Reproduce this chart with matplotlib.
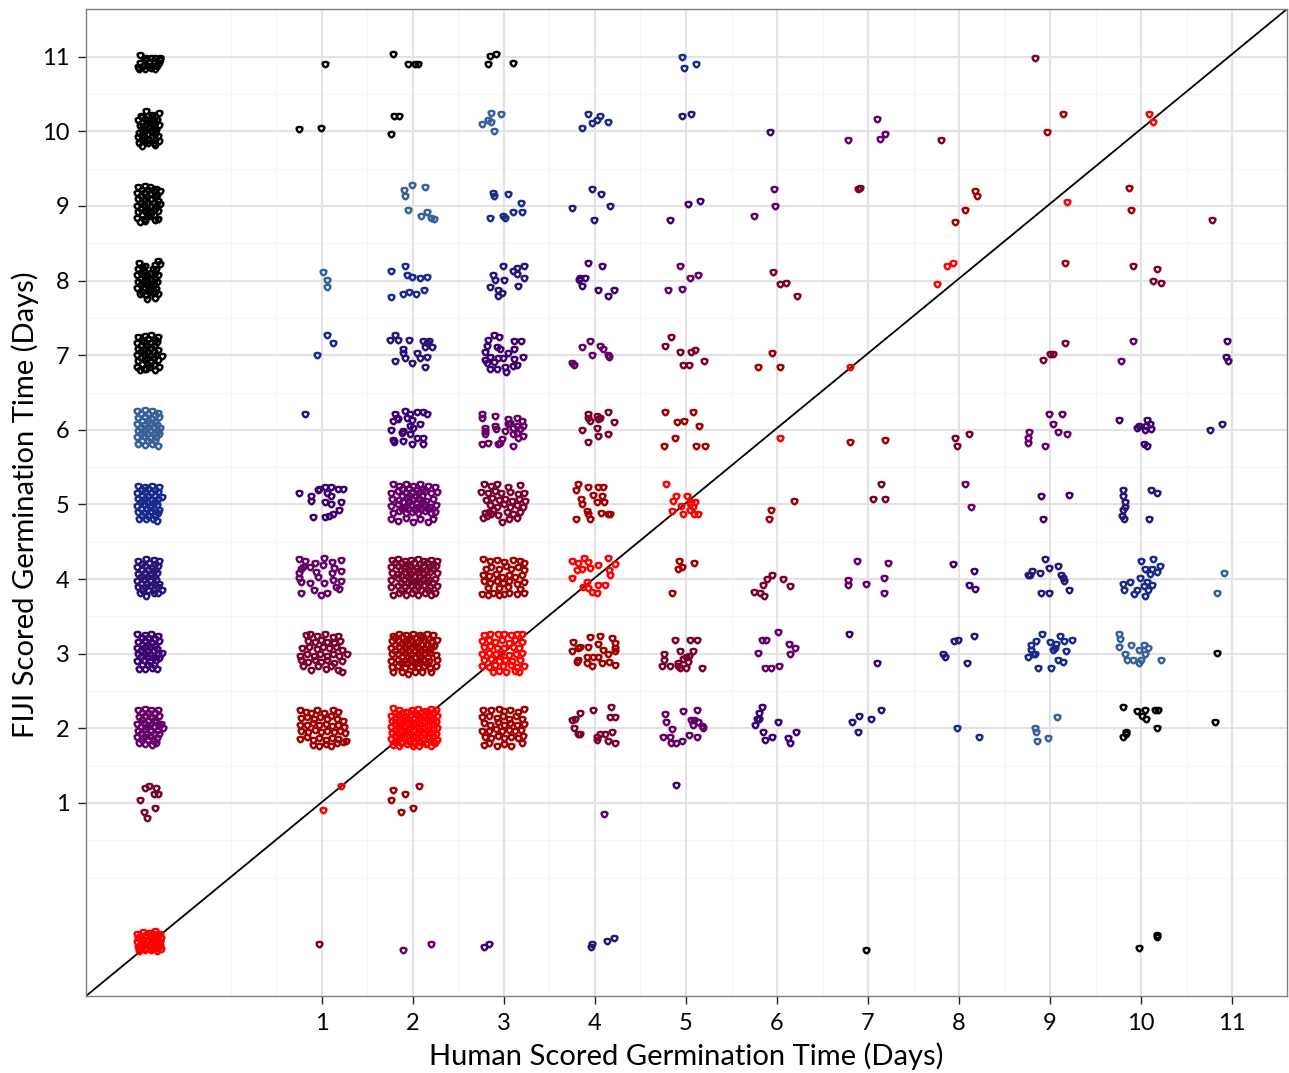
import matplotlib
matplotlib.use('Agg')
import matplotlib.pyplot as plt
from matplotlib.path import Path

# (human, fiji) days, jitter included.
# grouped by |human - fiji| since that is what sets the colour. Not germinated = about -0.9
band0 = [
    (-1.03,-0.75),(-0.97,-0.73),(-0.9,-0.74),(-0.84,-0.72),(-0.78,-0.75),(-1.02,-0.81),(-0.95,-0.8),(-0.88,-0.79),
    (-0.82,-0.8),(-0.77,-0.81),(-1.03,-0.87),(-0.96,-0.86),(-0.9,-0.85),(-0.84,-0.86),(-0.78,-0.87),(-1.02,-0.93),
    (-0.97,-0.92),(-0.91,-0.91),(-0.85,-0.93),(-0.78,-0.92),(-1.01,-0.98),(-0.95,-0.97),(-0.88,-0.97),(-0.81,-0.98),(-0.77,-0.96),
    (1.21,1.23),(1.01,0.91),
    (1.78,2.27),(1.85,2.24),(1.92,2.22),(1.99,2.25),(2.06,2.26),(2.13,2.23),(2.2,2.26),(2.25,2.24),
    (1.76,2.17),(1.83,2.18),(1.9,2.15),(1.97,2.17),(2.04,2.18),(2.11,2.16),(2.18,2.18),(2.26,2.16),
    (1.77,2.1),(1.84,2.09),(1.91,2.11),(1.98,2.08),(2.05,2.1),(2.12,2.09),(2.19,2.11),(2.25,2.08),
    (1.76,2.02),(1.83,2.01),(1.9,2.03),(1.97,2.0),(2.04,2.02),(2.11,2.01),(2.18,2.03),(2.26,2.0),
    (1.77,1.94),(1.84,1.93),(1.91,1.95),(1.98,1.92),(2.05,1.94),(2.12,1.93),(2.19,1.95),(2.25,1.92),
    (1.76,1.86),(1.83,1.85),(1.9,1.87),(1.97,1.84),(2.04,1.86),(2.11,1.85),(2.18,1.87),(2.26,1.84),
    (1.78,1.78),(1.85,1.76),(1.93,1.79),(2.0,1.77),(2.07,1.76),(2.14,1.79),(2.2,1.77),(2.24,1.8),
    (2.78,3.25),(2.85,3.27),(2.93,3.26),(3.0,3.27),(3.08,3.25),(3.14,3.27),(3.2,3.26),(2.76,3.17),(2.83,3.19),(2.9,3.16),
    (2.98,3.18),(3.05,3.15),(3.12,3.18),(3.2,3.16),(2.78,3.09),(2.85,3.1),(2.92,3.08),(3.0,3.07),(3.1,3.09),(3.17,3.07),
    (2.76,3.0),(2.84,3.01),(2.91,2.99),(2.97,3.0),(3.06,2.98),(3.13,3.0),(3.2,3.01),(2.78,2.91),(2.86,2.93),(2.94,2.9),
    (3.01,2.92),(3.09,2.9),(3.18,2.92),(2.76,2.84),(2.83,2.82),(2.9,2.85),(2.99,2.83),(3.08,2.85),(3.14,2.82),(3.22,2.84),
    (2.88,2.76),(2.94,2.77),(3.02,2.75),(3.12,2.77),(3.17,2.76),
    (3.75,4.24),(3.81,4.21),(3.88,4.28),(3.92,4.23),(3.8,4.12),(3.86,4.13),(3.95,4.15),(3.75,4.01),(4.03,4.19),(4.14,4.28),
    (4.22,4.2),(4.15,4.12),(4.16,4.05),(3.91,3.96),(3.87,3.89),(3.97,3.83),(4.02,3.81),(4.03,3.92),(4.11,3.92),(3.92,3.88),
    (4.78,5.27),(4.86,5.04),(4.89,5.11),(5.01,5.11),(5.05,5.03),(5.1,5.03),(5.08,4.96),(5.04,4.93),(4.85,4.91),(4.97,4.87),
    (4.94,4.98),(5.09,4.87),(5.13,4.87),(5.04,5.0),
    (6.03,5.89),(6.8,6.84),(7.76,7.95),(7.87,8.19),(7.93,8.24),(9.19,9.05),(10.09,10.23),(10.13,10.12),
]
band1 = [
    (0.76,2.24),(0.82,2.22),(0.88,2.2),(0.95,2.24),(1.02,2.21),(1.12,2.24),(1.18,2.22),(0.77,2.14),(0.84,2.15),(0.91,2.12),
    (0.98,2.15),(1.05,2.13),(1.1,2.16),(1.17,2.12),(1.23,2.1),(0.76,2.05),(0.83,2.04),(0.9,2.07),(0.97,2.04),(1.04,2.06),
    (1.11,2.03),(1.18,2.05),(1.24,2.02),(0.77,1.97),(0.85,1.95),(0.92,1.98),(0.99,1.95),(1.06,1.97),(1.13,1.95),(1.2,1.97),
    (1.25,1.94),(0.76,1.86),(0.83,1.88),(0.9,1.85),(0.97,1.87),(1.04,1.84),(1.11,1.87),(1.18,1.86),(1.26,1.83),(0.9,1.78),
    (0.97,1.77),(1.04,1.79),(1.1,1.77),(1.17,1.8),(1.23,1.82),
    (1.78,1.17),(1.91,1.12),(1.76,1.04),(2.07,1.23),(1.87,0.88),(2.0,0.93),
    (1.78,3.24),(1.85,3.27),(1.92,3.25),(2.0,3.27),(2.08,3.25),(2.15,3.26),(2.22,3.25),(1.77,3.17),(1.84,3.18),(1.91,3.16),
    (1.98,3.18),(2.05,3.16),(2.12,3.18),(2.2,3.16),(2.26,3.18),(1.76,3.08),(1.85,3.09),(1.92,3.07),(1.99,3.09),(2.06,3.08),
    (2.13,3.06),(2.2,3.09),(1.77,3.0),(1.84,2.99),(1.91,3.01),(1.98,2.98),(2.05,3.0),(2.12,2.99),(2.19,3.01),(2.25,2.98),
    (1.76,2.9),(1.83,2.92),(1.9,2.9),(1.97,2.92),(2.04,2.89),(2.11,2.92),(2.18,2.9),(2.26,2.92),(1.77,2.82),(1.84,2.84),
    (1.91,2.81),(1.98,2.83),(2.05,2.82),(2.12,2.84),(2.19,2.81),(2.25,2.83),(1.78,2.76),(1.88,2.75),(1.94,2.73),(2.02,2.76),(2.1,2.75),(2.2,2.76),
    (2.77,2.25),(2.86,2.24),(2.94,2.26),(3.0,2.23),(3.07,2.25),(3.15,2.22),(3.22,2.26),(2.76,2.15),(2.83,2.17),(2.92,2.14),
    (2.99,2.16),(3.06,2.13),(3.13,2.16),(3.2,2.13),(2.78,2.07),(2.85,2.05),(2.93,2.08),(3.0,2.05),(3.07,2.07),(3.14,2.04),
    (3.22,2.06),(2.76,1.97),(2.84,1.96),(2.91,1.99),(2.98,1.96),(3.05,1.98),(3.12,1.96),(3.19,1.98),(2.79,1.89),(2.86,1.87),
    (2.93,1.9),(3.0,1.87),(3.08,1.89),(3.15,1.87),(3.21,1.9),(2.78,1.78),(2.84,1.8),(2.92,1.77),(3.0,1.79),(3.08,1.76),(3.2,1.8),
    (2.77,4.27),(2.85,4.24),(2.92,4.26),(3.0,4.23),(3.1,4.26),(3.18,4.24),(3.22,4.22),(2.8,4.13),(2.86,4.16),(2.94,4.13),
    (3.02,4.17),(3.08,4.14),(3.15,4.16),(3.22,4.12),(2.77,4.06),(2.84,4.04),(2.91,4.07),(2.98,4.03),(3.05,4.06),(3.12,4.03),
    (3.2,4.06),(2.78,3.97),(2.85,3.95),(2.92,3.98),(2.99,3.95),(3.06,3.97),(3.14,3.94),(3.22,3.96),(2.76,3.8),(2.82,3.79),
    (2.88,3.81),(2.94,3.79),(3.0,3.8),(3.06,3.82),(3.14,3.8),(3.22,3.81),(2.82,3.88),(2.95,3.88),(3.04,3.89),(3.18,3.87),
    (3.76,3.16),(3.75,3.04),(3.81,3.08),(3.84,3.09),(3.92,3.09),(3.95,3.23),(4.05,3.24),(4.19,3.21),(4.03,3.13),(4.22,3.15),
    (4.22,3.08),(4.22,3.03),(4.09,3.05),(4.14,2.99),(3.8,2.89),(3.81,2.92),(3.91,2.88),(3.97,2.83),(4.03,2.95),(4.08,2.88),
    (4.15,2.89),(4.22,2.85),(3.91,2.95),(3.98,2.95),
    (3.81,5.28),(3.92,5.24),(4.03,5.24),(4.09,5.24),(3.79,5.19),(3.98,5.13),(4.08,5.11),(3.85,5.08),(3.86,5.0),(4.02,5.03),
    (4.1,5.03),(3.91,4.91),(3.92,4.87),(4.07,4.88),(4.14,4.87),(4.16,4.87),(3.79,4.81),(3.95,4.81),
    (4.92,4.24),(4.96,4.16),(4.91,4.13),(5.09,4.21),(4.85,3.81),
    (4.77,6.24),(4.9,6.11),(4.98,6.12),(5.08,6.24),(5.14,6.05),(4.76,5.79),(4.88,5.89),(5.11,5.79),(5.21,5.79),
    (6.19,5.05),(5.93,4.92),(5.91,4.81),(5.79,6.84),(5.95,7.03),(6.03,6.84),(6.8,5.84),(7.19,5.87),
    (7.96,8.79),(8.07,8.95),(8.18,9.2),(8.2,9.13),(9.16,8.24),(8.97,9.99),(9.14,10.23),(9.87,9.24),(9.89,8.95),
]
band2 = [
    (-0.945,1.2),(-0.9,1.23),(-0.82,1.2),(-0.85,1.12),(-0.8,1.12),(-1.0,1.04),(-0.84,0.93),(-0.96,0.88),(-0.92,0.8),
    (0.97,-0.89),
    (0.82,3.25),(0.87,3.27),(0.95,3.24),(1.03,3.27),(1.12,3.23),(1.18,3.24),(0.85,3.17),(0.92,3.16),(0.99,3.19),(1.06,3.16),
    (1.13,3.15),(1.2,3.17),(0.78,3.08),(0.86,3.09),(0.94,3.06),(1.01,3.09),(1.08,3.07),(1.15,3.09),(1.22,3.05),(0.76,2.97),
    (0.84,3.0),(0.91,2.97),(0.98,3.0),(1.05,2.97),(1.12,3.0),(1.19,2.97),(1.27,2.99),(0.77,2.91),(0.85,2.89),(0.92,2.92),
    (0.99,2.89),(1.06,2.91),(1.13,2.88),(1.22,2.9),(0.79,2.84),(0.88,2.78),(0.96,2.83),(1.04,2.8),(1.1,2.84),(1.18,2.78),(1.22,2.76),
    (1.77,4.25),(1.84,4.27),(1.91,4.24),(1.98,4.26),(2.05,4.27),(2.12,4.24),(2.2,4.26),(2.26,4.24),(1.76,4.16),(1.83,4.17),
    (1.9,4.15),(1.97,4.17),(2.04,4.15),(2.11,4.17),(2.18,4.16),(2.25,4.18),(1.77,4.08),(1.84,4.07),(1.91,4.09),(1.98,4.07),
    (2.05,4.09),(2.12,4.07),(2.19,4.09),(2.26,4.08),(1.76,3.99),(1.83,4.01),(1.9,3.99),(1.97,4.0),(2.04,3.98),(2.11,4.0),
    (2.18,3.99),(2.24,4.0),(1.76,3.89),(1.84,3.91),(1.91,3.89),(1.98,3.92),(2.05,3.9),(2.12,3.92),(2.19,3.9),(2.26,3.91),
    (1.78,3.79),(1.85,3.82),(1.92,3.79),(1.99,3.81),(2.06,3.79),(2.13,3.82),(2.2,3.79),(2.24,3.81),
    (2.78,5.27),(2.86,5.25),(2.92,5.27),(3.04,5.24),(3.18,5.26),(2.75,5.17),(2.82,5.15),(2.9,5.18),(2.97,5.15),(3.07,5.17),
    (3.15,5.14),(3.22,5.16),(2.8,5.06),(2.87,5.09),(2.94,5.06),(3.01,5.08),(3.09,5.05),(3.16,5.08),(3.23,5.05),(2.85,4.99),
    (2.92,4.97),(3.0,5.0),(3.07,4.97),(3.14,4.99),(3.21,4.97),(2.79,4.88),(2.83,4.9),(2.88,4.93),(2.93,4.86),(3.03,4.9),
    (3.1,4.87),(3.18,4.9),(2.77,4.82),(2.81,4.84),(2.86,4.87),(2.98,4.77),(3.06,4.8),(3.14,4.82),
    (3.98,2.24),(4.18,2.28),(3.84,2.2),(3.78,2.13),(3.75,2.11),(4.16,2.15),(4.22,2.15),(3.77,2.01),(3.81,1.92),(3.84,1.93),
    (4.02,1.89),(4.05,1.92),(4.11,1.92),(4.19,1.95),(4.14,1.83),(4.22,1.8),(4.02,1.84),
    (3.92,6.21),(3.92,6.16),(4.02,6.19),(4.05,6.16),(4.14,6.24),(4.21,6.11),(3.86,6.0),(4.02,6.03),(4.03,5.92),(4.14,5.95),
    (3.92,5.84),(3.95,6.12),(4.03,6.15),
    (4.74,2.84),(4.76,2.99),(4.76,2.91),(4.88,3.19),(4.93,3.04),(4.91,2.88),(4.97,2.93),(5.0,2.96),(5.03,2.97),(5.04,3.19),
    (5.12,3.19),(5.08,3.04),(4.82,2.84),(4.93,2.81),(5.0,2.81),(5.18,2.81),(5.02,2.89),(4.91,2.83),
    (4.77,7.13),(4.84,7.25),(4.93,7.04),(5.05,7.04),(5.1,7.07),(4.97,6.87),(5.03,6.87),(5.2,6.92),
    (5.75,3.83),(5.81,3.81),(5.85,3.92),(5.89,4.0),(5.95,4.05),(6.07,4.0),(6.14,3.91),(5.86,3.77),
    (5.96,8.12),(6.03,7.95),(6.1,7.97),(6.22,7.79),(7.14,5.27),(7.05,5.08),(7.19,5.08),(6.89,9.23),(6.91,9.24),
    (7.96,5.89),(8.11,5.95),(7.98,5.79),(7.8,9.88),(8.92,6.93),(9.0,7.01),(9.03,7.01),(9.16,7.16),(8.84,10.98),
    (9.91,8.19),(10.18,8.16),(10.13,8.0),(10.22,7.97),(10.78,8.81),
]
band3 = [
    (-1.02,2.24),(-0.95,2.26),(-0.88,2.25),(-0.8,2.24),(-1.01,2.15),(-0.94,2.16),(-0.87,2.14),(-0.79,2.16),(-1.03,2.06),(-0.96,2.07),
    (-0.89,2.05),(-0.82,2.08),(-0.77,2.06),(-1.02,1.97),(-0.95,1.99),(-0.88,1.96),(-0.8,1.98),(-0.75,2.0),(-1.03,1.89),(-0.96,1.88),
    (-0.89,1.9),(-0.81,1.87),(-1.01,1.8),(-0.94,1.79),(-0.87,1.78),(-0.82,1.8),
    (0.75,4.27),(0.81,4.24),(0.92,4.21),(1.02,4.28),(1.11,4.23),(1.21,4.25),(0.77,4.13),(0.87,4.16),(0.93,4.09),(1.01,4.19),
    (1.13,4.15),(1.21,4.11),(0.75,4.08),(0.96,4.03),(1.11,4.08),(0.77,3.96),(0.87,3.95),(1.02,3.95),(1.15,3.89),(1.21,3.97),
    (0.77,3.81),(0.91,3.85),(0.99,3.79),(1.05,3.81),(1.19,3.87),(0.75,4.01),(1.12,3.99),(0.79,4.16),
    (1.89,-0.97),(2.2,-0.89),
    (1.78,5.27),(1.85,5.25),(1.92,5.28),(2.0,5.25),(2.08,5.27),(2.16,5.25),(2.24,5.23),(1.76,5.16),(1.84,5.18),(1.92,5.15),
    (1.99,5.17),(2.06,5.15),(2.13,5.18),(2.2,5.15),(2.26,5.17),(1.77,5.08),(1.85,5.06),(1.93,5.09),(2.0,5.06),(2.07,5.08),
    (2.14,5.05),(2.22,5.08),(1.76,4.98),(1.84,5.0),(1.91,4.97),(1.98,4.99),(2.05,4.97),(2.12,5.0),(2.19,4.97),(2.25,4.99),
    (1.78,4.89),(1.85,4.91),(1.92,4.88),(1.99,4.9),(2.06,4.88),(2.13,4.91),(2.2,4.88),(2.24,4.9),(1.76,4.81),(1.84,4.78),
    (1.92,4.82),(2.0,4.76),(2.08,4.8),(2.16,4.77),(2.22,4.81),
    (2.76,6.21),(2.9,6.19),(2.76,6.16),(2.79,6.03),(2.9,6.05),(2.79,5.95),(2.76,5.81),(2.82,5.83),(2.93,5.81),(2.98,5.88),
    (3.1,5.79),(3.04,6.08),(3.14,6.16),(3.2,6.12),(3.18,6.01),(3.21,5.92),(3.1,5.95),(3.01,5.99),(3.07,6.09),(3.1,6.03),
    (3.15,5.89),(3.14,6.05),(3.04,6.15),(3.21,6.05),(2.79,5.99),(2.91,6.01),(2.96,5.83),(3.14,5.96),
    (4.1,0.85),(3.75,6.89),(3.77,6.87),(3.86,7.11),(3.95,7.19),(3.97,7.0),(4.05,7.13),(4.09,7.08),(4.14,7.0),(4.15,6.97),
    (4.77,2.19),(4.78,2.09),(4.97,2.23),(5.12,2.25),(4.85,1.99),(5.09,2.11),(5.13,2.08),(5.18,2.03),(5.05,2.11),(4.75,1.88),
    (4.82,1.88),(4.84,1.81),(4.89,1.81),(4.96,1.83),(5.03,1.91),(5.12,1.89),(5.19,2.0),(5.08,2.04),
    (4.8,7.87),(4.93,8.19),(4.96,7.89),(5.04,8.04),(5.13,8.08),
    (5.79,3.01),(5.84,3.19),(6.01,3.29),(5.87,2.81),(5.93,2.81),(6.02,2.84),(6.13,3.13),(6.2,3.08),(6.14,2.99),(5.88,3.19),
    (5.75,8.87),(5.97,9.23),(5.98,9.0),
    (6.78,3.99),(6.78,3.92),(6.88,4.24),(6.98,3.93),(7.18,4.01),(7.22,4.21),(7.18,3.81),
    (6.78,9.88),(7.1,10.17),(7.13,9.9),(7.19,9.97),(8.07,5.27),(8.13,4.97),
    (8.76,5.89),(8.77,5.97),(8.76,5.83),(8.99,6.21),(9.13,6.21),(9.03,6.08),(9.09,5.97),(9.19,5.95),(8.95,5.79),
    (9.78,6.92),(9.91,7.19),
]
band4 = [
    (-1.03,3.26),(-0.95,3.25),(-0.88,3.26),(-0.8,3.24),(-1.02,3.16),(-0.94,3.17),(-0.87,3.15),(-0.79,3.17),(-1.03,3.08),(-0.96,3.07),
    (-0.89,3.09),(-0.81,3.06),(-1.02,2.99),(-0.95,3.0),(-0.88,2.98),(-0.8,3.0),(-0.76,3.01),(-1.03,2.9),(-0.96,2.92),(-0.89,2.89),
    (-0.82,2.91),(-1.01,2.8),(-0.94,2.79),(-0.87,2.81),(-0.81,2.8),
    (0.75,5.16),(0.88,5.11),(0.88,5.04),(0.96,5.2),(0.97,5.21),(1.03,5.24),(1.1,5.24),(1.18,5.21),(1.23,5.21),(1.05,5.16),
    (1.1,5.11),(1.03,5.03),(1.1,5.0),(1.21,5.03),(1.19,4.92),(1.12,4.87),(1.03,4.83),(0.9,4.83),(1.08,4.85),
    (1.8,6.21),(1.91,6.25),(1.97,6.21),(2.04,6.24),(2.11,6.24),(2.15,6.21),(1.78,6.12),(1.84,6.15),(1.76,6.0),(1.99,6.13),
    (2.08,6.08),(1.97,6.05),(1.89,5.99),(1.97,5.95),(2.04,5.89),(2.11,5.89),(1.78,5.87),(1.79,5.84),(1.89,5.85),(1.99,5.81),
    (2.11,5.81),(1.88,5.96),(1.93,6.16),(2.0,6.03),(1.82,6.16),
    (2.78,-0.93),(2.84,-0.89),
    (2.82,7.21),(2.89,7.27),(2.95,7.24),(2.81,7.13),(2.79,7.05),(2.92,7.11),(2.96,7.09),(3.04,7.03),(3.11,7.19),(3.19,7.19),
    (3.11,7.09),(2.85,6.97),(2.93,6.96),(2.99,6.96),(3.11,6.95),(3.21,6.97),(2.81,6.89),(2.89,6.91),(3.01,6.84),(3.14,6.87),
    (2.85,6.81),(2.92,6.81),(3.02,6.77),(3.1,6.85),(2.79,6.93),
    (3.92,8.24),(4.08,8.2),(3.82,8.01),(3.84,8.04),(3.89,8.04),(3.86,7.93),(4.03,7.88),(4.14,7.8),(4.21,7.88),
    (4.89,1.24),(4.82,8.81),(5.02,9.03),(5.15,9.07),
    (5.8,2.2),(5.84,2.29),(5.78,2.13),(5.76,2.05),(6.01,2.09),(5.87,1.85),(5.85,1.95),(5.95,1.89),(6.12,1.87),(6.21,1.95),
    (6.14,1.81),(5.8,2.12),(5.92,9.99),
    (6.79,3.27),(7.1,2.87),(7.93,4.2),(8.16,4.11),(8.11,3.92),(8.18,3.87),(8.9,5.11),(9.21,5.13),(8.92,4.81),
    (9.76,6.13),(10.07,6.13),(9.98,6.05),(10.05,6.05),(10.11,6.01),(9.96,6.03),(10.03,5.81),(10.07,5.79),(10.04,6.0),(10.1,6.08),
    (10.95,7.19),(10.93,6.97),(10.96,6.92),
]
band5 = [
    (-1.02,4.24),(-0.93,4.27),(-0.85,4.26),(-0.79,4.24),(-1.03,4.16),(-0.95,4.17),(-0.87,4.15),(-0.8,4.17),(-1.02,4.07),(-0.95,4.08),
    (-0.88,4.06),(-0.81,4.08),(-1.03,3.98),(-0.96,4.0),(-0.89,3.97),(-0.82,3.99),(-1.02,3.9),(-0.95,3.89),(-0.88,3.91),(-0.8,3.89),
    (-0.76,3.85),(-1.0,3.81),(-0.93,3.78),(-0.85,3.81),(-0.8,3.82),
    (0.81,6.21),
    (1.75,7.21),(1.8,7.27),(1.84,7.21),(1.96,7.21),(2.11,7.19),(2.18,7.19),(2.15,7.16),(2.21,7.11),(2.13,7.11),(1.89,7.08),
    (1.89,7.03),(1.91,6.96),(1.8,6.92),(2.04,7.03),(2.08,6.96),(1.99,6.89),(2.15,6.97),(2.13,6.84),
    (2.99,8.2),(2.88,8.07),(2.9,8.01),(3.0,8.01),(3.1,8.13),(3.14,8.17),(3.22,8.2),(3.22,8.04),(3.15,7.93),(2.85,7.91),
    (2.93,7.88),(2.98,7.83),(2.93,7.8),(3.14,8.09),
    (3.75,8.97),(3.97,9.23),(4.07,9.16),(3.99,8.81),(4.16,9.0),
    (3.96,-0.93),(3.97,-0.89),(4.13,-0.85),(4.21,-0.81),
    (4.96,10.2),(5.05,10.23),
    (6.82,2.09),(6.9,2.16),(6.89,1.95),(7.03,2.13),(7.14,2.24),
    (7.82,3.0),(7.85,2.95),(7.94,3.17),(7.99,3.19),(8.09,2.87),(8.16,3.24),
    (8.95,4.27),(8.99,4.15),(9.09,4.17),(8.78,4.05),(8.8,4.11),(8.89,4.08),(9.12,4.05),(9.15,3.97),(9.14,4.01),(9.21,3.85),
    (8.9,3.81),(8.99,3.81),(8.76,4.05),
    (9.8,5.19),(9.8,5.11),(9.82,5.03),(10.11,5.19),(10.18,5.15),(10.09,4.81),(9.8,4.92),(9.79,4.85),(9.81,4.81),(9.82,4.97),
    (10.76,6.0),(10.89,6.08),
]
band6 = [
    (-1.02,5.25),(-0.94,5.24),(-0.87,5.25),(-0.79,5.24),(-1.03,5.16),(-0.95,5.17),(-0.88,5.15),(-0.8,5.17),(-0.76,5.1),(-1.02,5.07),
    (-0.94,5.08),(-0.87,5.06),(-0.8,5.07),(-1.03,4.98),(-0.96,5.0),(-0.89,4.97),(-0.81,4.99),(-1.02,4.9),(-0.95,4.89),(-0.88,4.91),
    (-0.8,4.88),(-1.01,4.81),(-0.93,4.8),(-0.86,4.81),(-0.81,4.78),
    (1.05,7.27),(1.12,7.16),(0.95,7.0),
    (1.76,8.13),(1.91,8.2),(1.76,7.78),(1.89,7.82),(1.96,7.85),(1.93,8.07),(1.99,8.05),(2.08,8.04),(2.15,8.05),(2.03,7.82),(2.12,7.87),
    (2.88,9.18),(2.89,9.14),(3.04,9.16),(2.85,8.84),(2.99,8.87),(3.1,8.92),(3.19,9.04),(3.2,8.92),(3.01,8.84),
    (3.86,10.04),(3.92,10.23),(3.97,10.11),(4.05,10.21),(4.02,10.15),(4.14,10.13),
    (4.96,11.0),(4.98,10.85),(5.11,10.9),
    (7.98,2.0),(8.22,1.89),
    (8.76,2.95),(8.79,3.12),(8.85,3.17),(8.79,3.05),(8.87,2.81),(9.01,2.81),(8.91,3.27),(9.0,3.16),(9.05,3.08),(9.11,3.24),
    (9.15,3.17),(9.07,3.13),(9.24,3.19),(9.18,3.03),(9.09,2.92),(9.14,2.89),(9.03,3.05),(8.84,3.0),(8.81,2.99),
    (9.8,3.93),(9.88,3.96),(10.0,4.24),(10.13,4.27),(10.04,4.13),(10.12,4.13),(10.21,4.17),(10.18,4.09),(10.1,4.07),(9.99,4.01),
    (10.07,3.96),(10.03,3.91),(9.96,3.85),(10.04,3.77),(9.92,3.8),(9.81,3.85),(10.12,3.92),(10.08,3.85),
]
band7 = [
    (-1.03,6.25),(-0.95,6.26),(-0.87,6.25),(-0.8,6.22),(-1.02,6.16),(-0.94,6.17),(-0.87,6.15),(-0.79,6.17),(-1.03,6.08),(-0.96,6.07),
    (-0.89,6.09),(-0.81,6.06),(-0.78,6.03),(-1.02,5.99),(-0.95,6.0),(-0.88,5.98),(-0.8,5.99),(-1.03,5.9),(-0.96,5.92),(-0.89,5.89),
    (-0.82,5.91),(-1.02,5.81),(-0.94,5.8),(-0.87,5.81),(-0.8,5.79),
    (1.01,8.12),(1.05,8.01),(1.05,7.91),
    (1.9,9.21),(1.99,9.28),(2.13,9.26),(1.95,8.94),(2.09,8.87),(2.15,8.92),(2.2,8.84),(2.23,8.82),(1.91,9.13),
    (2.76,10.1),(2.82,10.15),(2.86,10.25),(2.97,10.23),(2.89,10.01),(2.86,10.13),
    (8.84,2.01),(8.85,1.95),(8.86,1.83),(8.98,1.87),(9.08,2.15),
    (9.76,3.27),(9.77,3.2),(9.89,3.12),(10.03,3.12),(9.76,3.09),(9.82,2.99),(9.98,3.05),(10.08,3.08),(9.91,2.92),(9.85,2.92),
    (10.0,2.92),(9.98,2.87),(10.22,2.92),(10.04,2.99),
    (10.84,3.81),(10.91,4.08),
]
band8 = [
    (-1.0,11.03),(-0.93,10.98),(-0.88,10.99),(-0.83,10.99),(-0.78,10.98),(-0.79,10.92),(-0.85,10.94),(-0.9,10.93),(-0.95,10.95),(-1.0,10.92),
    (-1.02,10.86),(-0.97,10.87),(-0.91,10.88),(-0.86,10.88),(-0.81,10.88),(-0.84,10.83),(-0.95,10.83),(-1.01,10.84),(-0.78,10.95),(-0.88,10.85),
    (-0.99,10.2),(-0.93,10.27),(-0.87,10.22),(-0.79,10.25),(-1.02,10.15),(-0.95,10.16),(-0.88,10.13),(-0.81,10.15),(-1.0,10.07),(-0.93,10.09),
    (-0.85,10.07),(-0.79,10.09),(-1.01,9.98),(-0.95,10.01),(-0.88,10.0),(-0.82,10.02),(-1.02,9.92),(-0.96,9.93),(-0.87,9.93),(-0.8,9.94),
    (-1.01,9.85),(-0.94,9.86),(-0.85,9.85),(-0.79,9.87),(-0.98,9.8),(-0.91,9.84),(-0.83,9.82),
    (-1.02,9.25),(-0.95,9.27),(-0.89,9.26),(-0.82,9.23),(-0.78,9.2),(-1.03,9.17),(-0.96,9.18),(-0.89,9.16),(-0.81,9.15),(-1.02,9.09),
    (-0.95,9.08),(-0.88,9.1),(-0.8,9.07),(-1.03,9.0),(-0.96,9.01),(-0.89,8.99),(-0.82,9.0),(-0.78,9.03),(-1.02,8.92),(-0.95,8.93),
    (-0.88,8.91),(-0.8,8.93),(-1.03,8.84),(-0.96,8.83),(-0.89,8.86),(-0.8,8.83),(-1.0,8.79),(-0.94,8.8),(-0.83,8.81),
    (-1.01,8.24),(-0.94,8.19),(-0.86,8.16),(-0.8,8.26),(-0.78,8.22),(-1.02,8.15),(-0.96,8.12),(-0.88,8.1),(-0.82,8.16),(-1.03,8.07),
    (-0.95,8.05),(-0.88,8.02),(-0.8,8.07),(-1.02,7.98),(-0.95,7.99),(-0.88,7.96),(-0.81,7.98),(-1.03,7.9),(-0.96,7.91),(-0.89,7.88),
    (-0.82,7.89),(-1.0,7.82),(-0.93,7.81),(-0.86,7.83),(-0.8,7.82),(-0.92,7.76),(-0.84,7.77),
    (-1.02,7.25),(-0.95,7.26),(-0.88,7.27),(-0.8,7.25),(-1.03,7.17),(-0.96,7.18),(-0.89,7.16),(-0.81,7.18),(-1.02,7.09),(-0.95,7.08),
    (-0.88,7.1),(-0.8,7.07),(-1.03,7.0),(-0.96,7.01),(-0.89,6.99),(-0.82,7.0),(-0.76,6.99),(-1.02,6.92),(-0.95,6.93),(-0.88,6.91),
    (-0.8,6.94),(-1.03,6.84),(-0.96,6.82),(-0.89,6.84),(-0.83,6.8),(-0.79,6.84),(-1.0,6.8),(-0.93,6.81),
    (1.03,10.9),(1.78,11.04),(1.95,10.9),(2.02,10.9),(2.05,10.9),(2.82,10.9),(2.85,11.01),(2.91,11.04),(3.1,10.92),
    (0.75,10.03),(0.99,10.04),(1.79,10.2),(1.85,10.2),(1.76,9.96),
    (6.98,-0.97),(9.98,-0.94),(10.18,-0.77),(10.18,-0.8),
    (10.83,3.01),(10.81,2.09),
    (9.8,2.29),(9.8,1.89),(9.84,1.95),(9.83,1.92),(9.96,2.23),(10.04,2.24),(10.01,2.16),(10.05,2.12),(10.15,2.25),(10.19,2.25),(10.18,2.0),
]

# more points inside the solid looking blocks, the individual ones can't be told apart there
fill0 = [
    (-1.0,-0.78),(-0.93,-0.77),(-0.86,-0.76),(-0.8,-0.77),(-0.99,-0.84),(-0.92,-0.83),(-0.86,-0.83),(-0.8,-0.84),
    (-0.99,-0.89),(-0.93,-0.89),(-0.87,-0.88),(-0.81,-0.89),(-1.0,-0.95),(-0.93,-0.95),(-0.87,-0.94),(-0.81,-0.95),
    (1.8,2.21),(1.88,2.2),(1.95,2.22),(2.02,2.21),(2.09,2.2),(2.16,2.22),(2.23,2.2),(1.8,2.13),(1.87,2.14),(1.94,2.12),
    (2.01,2.13),(2.08,2.14),(2.15,2.12),(2.22,2.13),(1.8,2.06),(1.87,2.05),(1.94,2.07),(2.01,2.05),(2.08,2.06),(2.15,2.05),
    (2.22,2.06),(1.8,1.98),(1.87,1.97),(1.94,1.99),(2.01,1.97),(2.08,1.98),(2.15,1.97),(2.22,1.99),(1.8,1.9),(1.87,1.89),
    (1.94,1.91),(2.01,1.89),(2.08,1.9),(2.15,1.89),(2.22,1.9),(1.8,1.82),(1.87,1.81),(1.94,1.83),(2.01,1.81),(2.08,1.82),(2.15,1.81),(2.22,1.82),
]
fill1 = [
    (1.8,3.21),(1.88,3.22),(1.95,3.2),(2.02,3.21),(2.1,3.22),(2.17,3.2),(1.8,3.12),(1.88,3.13),(1.95,3.12),(2.02,3.11),
    (2.09,3.13),(2.16,3.12),(2.23,3.11),(1.8,3.04),(1.88,3.04),(1.95,3.03),(2.02,3.04),(2.09,3.03),(2.16,3.04),(1.88,2.95),
    (1.95,2.96),(2.02,2.95),(2.09,2.96),(2.16,2.95),(1.87,2.87),(1.94,2.87),(2.02,2.86),(2.08,2.87),(2.15,2.86),
]
fill2 = [
    (1.8,4.21),(1.87,4.22),(1.94,4.2),(2.01,4.21),(2.08,4.2),(2.15,4.21),(2.22,4.2),(1.87,4.12),(1.94,4.12),(2.01,4.11),
    (2.08,4.12),(2.15,4.12),(2.22,4.13),(1.87,4.04),(1.94,4.03),(2.01,4.04),(2.08,4.03),(2.15,4.04),(1.87,3.95),(1.94,3.95),
    (2.01,3.96),(2.08,3.95),(2.15,3.96),(2.22,3.95),(1.87,3.85),(1.95,3.86),(2.02,3.85),(2.09,3.86),(2.16,3.85),
]
fill3 = [
    (-0.98,2.2),(-0.91,2.21),(-0.84,2.2),(-0.98,2.11),(-0.91,2.1),(-0.84,2.11),(-0.99,2.02),(-0.92,2.02),(-0.85,2.02),
    (-0.79,2.03),(-0.99,1.93),(-0.92,1.93),(-0.85,1.93),(-0.79,1.92),(-0.98,1.84),(-0.91,1.84),(-0.85,1.83),
    (1.88,5.21),(1.96,5.21),(2.03,5.2),(2.11,5.21),(1.88,5.12),(1.96,5.12),(2.03,5.11),(2.1,5.12),(1.89,5.03),(1.96,5.03),
    (2.03,5.02),(2.1,5.03),(1.88,4.94),(1.95,4.94),(2.02,4.93),(2.09,4.94),(2.16,4.94),
]
fill4 = [
    (-0.98,3.21),(-0.91,3.21),(-0.84,3.2),(-0.98,3.12),(-0.91,3.12),(-0.84,3.11),(-0.99,3.03),(-0.92,3.04),(-0.85,3.03),
    (-0.99,2.95),(-0.92,2.95),(-0.85,2.95),(-0.79,2.94),(-0.98,2.85),(-0.91,2.85),(-0.85,2.85),
]
fill5 = [
    (-0.98,4.2),(-0.9,4.21),(-0.83,4.2),(-0.98,4.12),(-0.91,4.12),(-0.84,4.12),(-0.99,4.03),(-0.92,4.03),(-0.85,4.03),
    (-0.99,3.94),(-0.92,3.94),(-0.85,3.94),(-0.79,3.94),(-0.98,3.85),(-0.91,3.85),(-0.85,3.85),
]
fill6 = [
    (-0.98,5.2),(-0.91,5.21),(-0.84,5.2),(-0.98,5.12),(-0.91,5.11),(-0.84,5.12),(-0.99,5.03),(-0.92,5.03),(-0.84,5.03),
    (-0.99,4.94),(-0.92,4.94),(-0.85,4.94),(-0.79,4.93),(-0.98,4.85),(-0.91,4.85),(-0.84,4.85),
]
fill7 = [
    (-0.99,6.21),(-0.91,6.21),(-0.84,6.2),(-0.98,6.12),(-0.91,6.12),(-0.84,6.11),(-0.99,6.03),(-0.92,6.03),(-0.85,6.03),
    (-0.99,5.95),(-0.92,5.95),(-0.85,5.95),(-0.79,5.94),(-0.98,5.85),(-0.91,5.85),(-0.84,5.85),
]
fill8 = [
    (-0.98,10.19),(-0.91,10.2),(-0.84,10.19),(-0.98,10.11),(-0.91,10.12),(-0.84,10.11),(-0.98,10.03),(-0.91,10.04),(-0.85,10.03),
    (-0.98,9.95),(-0.91,9.96),(-0.84,9.96),(-0.98,9.88),(-0.9,9.89),(-0.83,9.89),
    (-0.98,9.22),(-0.91,9.21),(-0.85,9.2),(-0.99,9.13),(-0.92,9.12),(-0.84,9.12),(-0.99,9.04),(-0.92,9.04),(-0.85,9.04),
    (-0.99,8.96),(-0.92,8.96),(-0.84,8.96),(-0.98,8.88),(-0.91,8.88),(-0.85,8.88),
    (-0.98,8.18),(-0.84,8.21),(-0.99,8.1),(-0.92,8.08),(-0.84,8.1),(-0.99,8.02),(-0.92,8.01),(-0.84,8.02),
    (-0.99,7.94),(-0.92,7.94),(-0.85,7.94),(-0.98,7.85),(-0.9,7.85),(-0.84,7.85),
    (-0.98,7.21),(-0.91,7.22),(-0.84,7.21),(-0.99,7.13),(-0.92,7.13),(-0.85,7.12),(-0.99,7.04),(-0.92,7.04),(-0.85,7.04),
    (-0.99,6.96),(-0.92,6.96),(-0.85,6.96),(-0.98,6.88),(-0.91,6.87),(-0.85,6.87),
]

bands = [band0 + fill0, band1 + fill1, band2 + fill2, band3 + fill3, band4 + fill4,
         band5 + fill5, band6 + fill6, band7 + fill7, band8 + fill8]
band_colors = ['#ff0000', '#a00000', '#7a0030', '#650068', '#3d0070', '#2a1575', '#1a2a8c', '#3a6098', '#000000']

x_ticks = [1, 2, 3, 4, 5, 6, 7, 8, 9, 10, 11]
y_ticks = [1, 2, 3, 4, 5, 6, 7, 8, 9, 10, 11]
minor_ticks = [0, 0.5, 1.5, 2.5, 3.5, 4.5, 5.5, 6.5, 7.5, 8.5, 9.5, 10.5]

plt.rcParams['font.family'] = ['Lato', 'DejaVu Sans']

# the open points in the original are not quite round: flatter on top, a bit pointed below
shield = Path([(-0.95, 0.55), (-0.5, 1.0), (0.5, 1.0), (0.98, 0.55), (1.1, -0.1), (0.6, -0.85), (0.1, -0.95),
               (-0.5, -0.95), (-1.1, -0.25), (-0.95, 0.55), (-0.95, 0.55)],
              [Path.MOVETO, Path.CURVE4, Path.CURVE4, Path.CURVE4, Path.CURVE4, Path.CURVE4, Path.CURVE4,
               Path.CURVE4, Path.CURVE4, Path.CURVE4, Path.CLOSEPOLY])

fig = plt.figure(figsize=(12.89, 10.73), dpi=100)
ax = fig.add_axes([86 / 1289, 1 - 996 / 1073, (1287 - 86) / 1289, (996 - 9) / 1073])

xlim = (-1.593, 11.604)
ylim = (-1.587, 11.64)

# grid first, then the diagonal, points on top
for v in minor_ticks:
    ax.axvline(v, color='#f5f5f5', lw=1.0, zorder=1)
    ax.axhline(v, color='#f5f5f5', lw=1.0, zorder=1)
for v in x_ticks:
    ax.axvline(v, color='#e3e3e3', lw=1.5, zorder=1)
for v in y_ticks:
    ax.axhline(v, color='#e3e3e3', lw=1.5, zorder=1)

ax.plot([xlim[0], xlim[1]], [ylim[0], ylim[1]], color='black', lw=1.3, zorder=2)

for pts, col in zip(bands, band_colors):
    xs = [p[0] for p in pts]
    ys = [p[1] for p in pts]
    ax.plot(xs, ys, linestyle='none', marker=shield, ms=4.6, mfc='none', mec=col, mew=1.75, zorder=3)

ax.set_xlim(xlim)
ax.set_ylim(ylim)
ax.set_xticks(x_ticks)
ax.set_yticks(y_ticks)
ax.tick_params(labelsize=17, length=5.5, width=1, color='#222222')
ax.tick_params(axis='x', pad=6.8)
ax.tick_params(axis='y', pad=6.5)
for s in ax.spines.values():
    s.set_color('#7f7f7f')
    s.set_linewidth(1)

fig.text(686 / 1289, 1 - 1056 / 1073, 'Human Scored Germination Time (Days)', fontsize=21, ha='center', va='center')
fig.text(25 / 1289, 1 - 505 / 1073, 'FIJI Scored Germination Time (Days)', fontsize=21, rotation=90, ha='center', va='center')

fig.savefig('out.png', dpi=100)
